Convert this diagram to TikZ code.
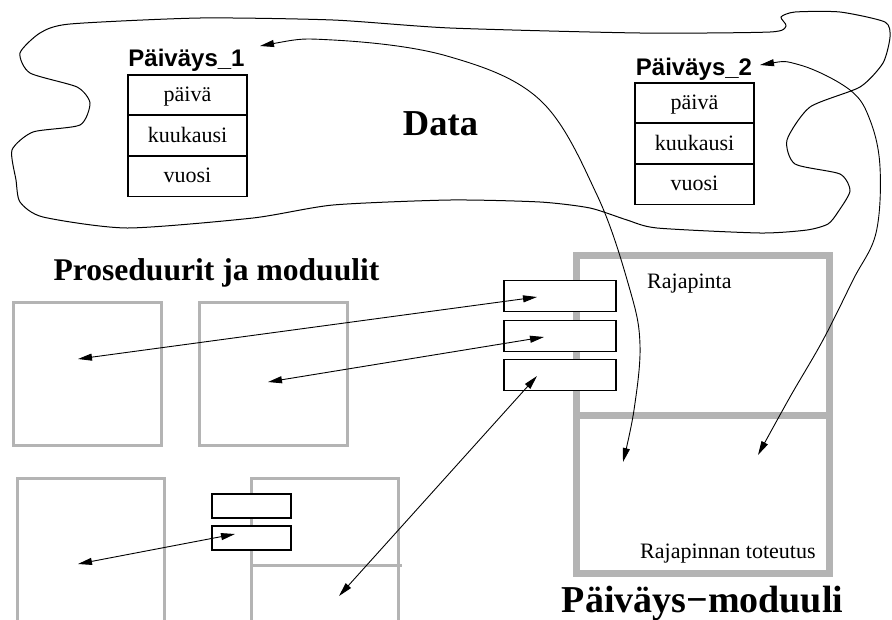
\documentclass[tikz,border=0pt]{standalone}
\usepackage{fontspec}
\setmainfont{Liberation Serif}
\setsansfont{Liberation Sans}
\usetikzlibrary{arrows.meta}
\definecolor{boxgray}{RGB}{180,180,180}
\tikzset{
  arr/.style={line width=0.9pt, {Triangle[length=14pt,width=7pt]}-{Triangle[length=14pt,width=7pt]}},
  cloud/.style={line width=1pt},
  graybox/.style={draw=boxgray, line width=3pt},
  bigframe/.style={draw=boxgray, line width=7pt},
  smallbox/.style={draw, fill=white, line width=1.4pt, inner sep=0pt},
  cell/.style={draw, line width=1.2pt, minimum width=119pt, minimum height=39.6pt, inner sep=0pt,
    text height=16.5pt, text depth=3.5pt, font=\fontsize{22}{24}\selectfont, anchor=north},
  ttl/.style={font=\sffamily\bfseries\fontsize{24}{26}\selectfont, anchor=base, inner sep=0pt},
  lbl/.style={font=\fontsize{22}{24}\selectfont, anchor=base west, inner sep=0pt},
}
\begin{document}
\begin{tikzpicture}[x=1pt,y=-1pt]
\useasboundingbox (0,0) rectangle (892,619);

% Data cloud
\draw[cloud] plot[smooth cycle, tension=0.4] coordinates {
 (70,24) (200,18) (333,20) (450,28) (640,33) (770,32) (786,26) (781,17) (795,12)
 (840,12) (885,22) (890,37) (883,63) (860,87) (810,107) (787,140) (795,164)
 (840,174) (850,191) (838,212) (828,224) (807,230) (760,233) (657,228) (627,220)
 (590,208) (540,202) (450,200) (333,205) (253,218) (127,228) (43,217) (20,202)
 (16,180) (12,150) (33,132) (80,125) (90,103) (77,87) (30,73) (20,53) (40,33)};

\node[font=\bfseries\fontsize{36.5}{40}\selectfont, anchor=base, inner sep=0pt] (data) at (440.5,135) {Data};

% Table 1
\node[ttl] (p1) at (186.5,66.7) {Päiväys\_1};
\node[cell] (p1a) at (187.5,74.3) {päivä};
\node[cell] (p1b) at (p1a.south) {kuukausi};
\node[cell] (p1c) at (p1b.south) {vuosi};

% Table 2
\node[ttl] (p2) at (694,75) {Päiväys\_2};
\node[cell] (p2a) at (694.5,82.3) {päivä};
\node[cell] (p2b) at (p2a.south) {kuukausi};
\node[cell] (p2c) at (p2b.south) {vuosi};

% Procedures and modules
\node[font=\bfseries\fontsize{31.6}{34}\selectfont, anchor=base, inner sep=0pt] (proc) at (216.5,280) {Proseduurit ja moduulit};
\draw[graybox] (13,302) rectangle (161,445);
\draw[graybox] (199,302) rectangle (347,445);
\draw[graybox] (17,625) -- (17,478) -- (164,478) -- (164,625);
\draw[graybox] (251,625) -- (251,478) -- (398,478) -- (398,625);
\draw[graybox] (251,565) -- (402,565);
\node[smallbox, minimum width=79pt, minimum height=24pt] (q1) at (251.5,506) {};
\node[smallbox, minimum width=79pt, minimum height=24pt] (q2) at (251.5,538) {};

% Date module
\draw[bigframe] (576,255.5) rectangle (829.5,573);
\draw[bigframe] (576,415.5) -- (829.5,415.5);
\node[smallbox, minimum width=112pt, minimum height=31pt] (s1) at (560,296.2) {};
\node[smallbox, minimum width=112pt, minimum height=31pt] (s2) at (560,335.9) {};
\node[smallbox, minimum width=112pt, minimum height=31pt] (s3) at (560,375.2) {};
\node[lbl] (rp) at (647,288) {Rajapinta};
\node[lbl] (rt) at (640,558) {Rajapinnan toteutus};
\node[font=\bfseries\fontsize{38}{40}\selectfont, anchor=base, inner sep=0pt] (pm) at (702.5,612) {Päiväys−moduuli};

% arrow end points
\coordinate (e1) at (537,297);
\coordinate (a1) at (78,359);
\coordinate (e2) at (544,337);
\coordinate (b1) at (268,382);
\coordinate (e3) at (537,376);
\coordinate (d1) at (339,596);
\coordinate (e4) at (235,534);
\coordinate (c1) at (78,564);
\coordinate (t1) at (260,46);
\coordinate (m1) at (623,462);
\coordinate (t2) at (760,65);
\coordinate (m2) at (758,455);

\draw[arr] (a1) -- (e1);
\draw[arr] (b1) -- (e2);
\draw[arr] (d1) -- (e3);
\draw[arr] (c1) -- (e4);

\draw[arr] plot[smooth, tension=0.6] coordinates {(t1) (333,40) (447,56) (540,100) (597,195) (630,290) (640,345) (634,410) (m1)};
\draw[arr] plot[smooth, tension=0.6] coordinates {(t2) (800,65) (850,90) (870,120) (880,167) (876,233) (853,280) (823,340) (790,397) (m2)};
\end{tikzpicture}
\end{document}
